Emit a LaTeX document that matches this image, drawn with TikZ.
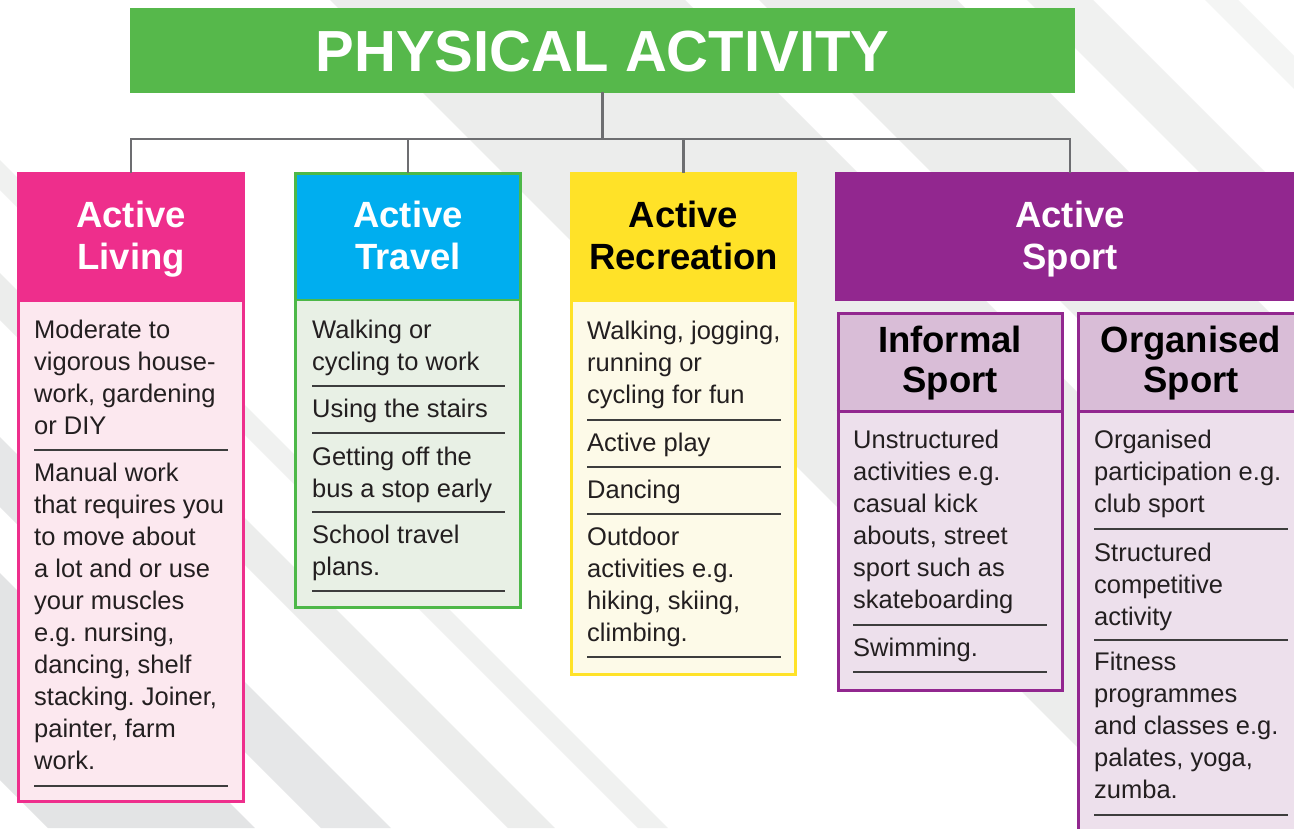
\documentclass[tikz,border=0pt]{standalone}
\usepackage{fontspec}
\setmainfont{Liberation Sans}
\frenchspacing
\definecolor{titleg}{HTML}{56B84B}
\definecolor{pinkc}{HTML}{EE2E8C}
\definecolor{pinkl}{HTML}{FCE8EF}
\definecolor{cyanc}{HTML}{00AEEF}
\definecolor{greenb}{HTML}{4DB848}
\definecolor{greenl}{HTML}{E8F0E5}
\definecolor{yellowc}{HTML}{FFE228}
\definecolor{yellowl}{HTML}{FDFAE8}
\definecolor{purplec}{HTML}{92278F}
\definecolor{purpleh}{HTML}{D9BDD7}
\definecolor{purplel}{HTML}{EDE0EC}
\definecolor{txtc}{HTML}{231F20}
\definecolor{rulec}{HTML}{3D3D3D}
\definecolor{connc}{HTML}{6D6E71}
\definecolor{bandA}{HTML}{E3E4E5}
\definecolor{bandB}{HTML}{E6E7E8}
\definecolor{bandC}{HTML}{ECEDEC}
\definecolor{bandD}{HTML}{F0F1F0}
\definecolor{bandE}{HTML}{F4F5F4}
\newcommand\pabody{\fontsize{25.5}{32}\selectfont\frenchspacing}
\newcommand\pahead{\fontsize{36.5}{42}\selectfont\bfseries}
\newcommand\pasub{\fontsize{36.5}{40.5}\selectfont\bfseries}
\newcommand\patitle{\fontsize{58}{60}\selectfont\bfseries}
\newcommand\palines[2]{\begin{tabular}[t]{@{}#1@{}}#2\end{tabular}}
\tikzset{
  bodytext/.style={anchor=base west, inner sep=0pt, font=\pabody, text=txtc},
  headtext/.style={anchor=base, inner sep=0pt, font=\pahead},
  subtext/.style={anchor=base, inner sep=0pt, font=\pasub, text=black},
  panel/.style={anchor=north west, inner sep=0pt, outer sep=0pt, draw=none},
  sepline/.style={draw=rulec, line width=2pt},
  conn/.style={draw=connc, line width=2.6pt, line cap=rect, line join=miter},
  outline/.style={line width=3pt}
}
\begin{document}
\begin{tikzpicture}[x=1pt,y=-1pt]
\useasboundingbox (0,0) rectangle (1294,828);
\clip (0,0) rectangle (1294,828);
\fill[white] (0,0) rectangle (1294,828);
% background diagonal bands
\foreach \a/\b/\c in {-780/-573/bandA,-507/-437/bandB,-320/-273/bandC,-190/-160/bandD,330/685/bandC,759/957/bandC,1027/1093/bandD,1205/1238/bandE}
  \fill[\c] (\a,0) -- (\b,0) -- (\b+828,828) -- (\a+828,828) -- cycle;

% title
\node[panel, fill=titleg, minimum width=945pt, minimum height=85pt] (title) at (130,8) {};
\node[anchor=base, inner sep=0pt, text=white, font=\patitle] (titletext) at (602.5,71) {PHYSICAL ACTIVITY};

% Active Living
\node[panel, fill=pinkc, minimum width=228pt, minimum height=130pt] (livH) at (17,172) {};
\node[panel, fill=pinkl, minimum width=228pt, minimum height=501pt] (livB) at (17,302) {};
\draw[outline, draw=pinkc] ([shift={(1.5,1.5)}]livH.north west) rectangle ([shift={(-1.5,-1.5)}]livB.south east);
\node[headtext, text=white] (livT) at (131,227) {\palines{c}{Active\\Living}};

% Active Travel
\node[panel, fill=cyanc, minimum width=228pt, minimum height=128pt] (travH) at (294,172) {};
\node[panel, fill=greenl, minimum width=228pt, minimum height=309pt] (travB) at (294,300) {};
\draw[outline, draw=greenb] ([shift={(1.5,1.5)}]travH.north west) rectangle ([shift={(-1.5,-1.5)}]travB.south east);
\draw[draw=greenb, line width=2.5pt] (travB.north west) -- (travB.north east);
\node[headtext, text=white] (travT) at (408,227) {\palines{c}{Active\\Travel}};

% Active Recreation
\node[panel, fill=yellowc, minimum width=227pt, minimum height=130pt] (recH) at (570,172) {};
\node[panel, fill=yellowl, minimum width=227pt, minimum height=374pt] (recB) at (570,302) {};
\draw[outline, draw=yellowc] ([shift={(1.5,1.5)}]recH.north west) rectangle ([shift={(-1.5,-1.5)}]recB.south east);
\node[headtext, text=black] (recT) at (683.5,227) {\palines{c}{Active\\Recreation}};

% Active Sport
\node[panel, fill=purplec, minimum width=470pt, minimum height=129pt] (sportH) at (835,172) {};
\node[headtext, text=white] (sportT) at (1070,227) {\palines{c}{Active\\Sport}};

% Informal Sport
\node[panel, fill=purpleh, minimum width=227pt, minimum height=99pt] (infH) at (836.5,312) {};
\node[panel, fill=purplel, minimum width=227pt, minimum height=281pt] (infB) at (836.5,411) {};
\draw[outline, draw=purplec] ([shift={(1.5,1.5)}]infH.north west) rectangle ([shift={(-1.5,-1.5)}]infB.south east);
\draw[outline, draw=purplec] (infB.north west) -- (infB.north east);
\node[subtext] (infT) at (950,352) {\palines{c}{Informal\\Sport}};

% Organised Sport
\node[panel, fill=purpleh, minimum width=228pt, minimum height=99pt] (orgH) at (1077,312) {};
\node[panel, fill=purplel, minimum width=228pt, minimum height=500pt] (orgB) at (1077,411) {};
\draw[outline, draw=purplec] ([shift={(1.5,1.5)}]orgH.north west) rectangle ([shift={(-1.5,-1.5)}]orgB.south east);
\draw[outline, draw=purplec] (orgB.north west) -- (orgB.north east);
\node[subtext] (orgT) at (1191,352) {\palines{c}{Organised\\Sport}};

% connectors
\coordinate (bar) at (0,139);
\draw[conn] (title.south) -- (title.south |- bar);
\draw[conn] (livH.north) |- (sportH.north |- bar) -- (sportH.north);
\draw[conn] (travH.north) -- (travH.north |- bar);
\draw[conn] (recH.north) -- (recH.north |- bar);

% Active Living items
\node[bodytext] (liv1) at (34,338) {\palines{l}{Moderate to\\vigorous house-\\work, gardening\\or DIY}};
\draw[sepline] (34,450) -- (228,450);
\node[bodytext] (liv2) at (34,481) {\palines{l}{Manual work\\that requires you\\to move about\\a lot and or use\\your muscles\\e.g. nursing,\\dancing, shelf\\stacking. Joiner,\\painter, farm\\work.}};
\draw[sepline] (34,786) -- (228,786);

% Active Travel items
\node[bodytext] (trav1) at (312,338) {\palines{l}{Walking or\\cycling to work}};
\draw[sepline] (312,386) -- (505,386);
\node[bodytext] (trav2) at (312,417) {Using the stairs};
\draw[sepline] (312,433) -- (505,433);
\node[bodytext] (trav3) at (312,465) {\palines{l}{Getting off the\\bus a stop early}};
\draw[sepline] (312,512) -- (505,512);
\node[bodytext] (trav4) at (312,543) {\palines{l}{School travel\\plans.}};
\draw[sepline] (312,591) -- (505,591);

% Active Recreation items
\node[bodytext] (rec1) at (587,339) {\palines{l}{Walking, jogging,\\running or\\cycling for fun}};
\draw[sepline] (587,420) -- (781,420);
\node[bodytext] (rec2) at (587,451) {Active play};
\draw[sepline] (587,467) -- (781,467);
\node[bodytext] (rec3) at (587,498) {Dancing};
\draw[sepline] (587,514) -- (781,514);
\node[bodytext] (rec4) at (587,545) {\palines{l}{Outdoor\\activities e.g.\\hiking, skiing,\\climbing.}};
\draw[sepline] (587,657) -- (781,657);

% Informal Sport items
\node[bodytext] (inf1) at (853,448) {\palines{l}{Unstructured\\activities e.g.\\casual kick\\abouts, street\\sport such as\\skateboarding}};
\draw[sepline] (853,625) -- (1047,625);
\node[bodytext] (inf2) at (853,656) {Swimming.};
\draw[sepline] (853,672) -- (1047,672);

% Organised Sport items
\node[bodytext] (org1) at (1094,448) {\palines{l}{Organised\\participation e.g.\\club sport}};
\draw[sepline] (1094,529) -- (1288,529);
\node[bodytext] (org2) at (1094,561) {\palines{l}{Structured\\competitive\\activity}};
\draw[sepline] (1094,640) -- (1288,640);
\node[bodytext] (org3) at (1094,670) {\palines{l}{Fitness\\programmes\\and classes e.g.\\palates, yoga,\\zumba.}};
\draw[sepline] (1094,815) -- (1288,815);
\end{tikzpicture}
\end{document}
